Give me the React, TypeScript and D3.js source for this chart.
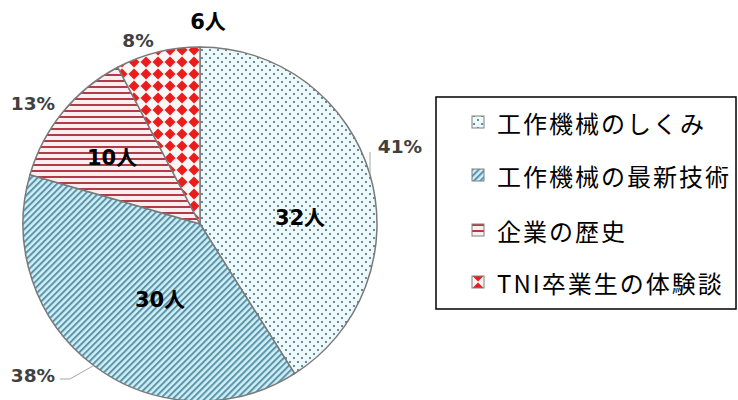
import React from 'react';
import * as d3 from 'd3';

const categories = ['工作機械のしくみ', '工作機械の最新技術', '企業の歴史', 'TNI卒業生の体験談'];
const counts = [32, 30, 10, 6];
const countUnit = '人';

const W = 738;
const H = 400;
const FONT = '"Noto Sans CJK JP", "Noto Sans", sans-serif';
const NUMFONT = '"DejaVu Sans", "Noto Sans CJK JP", sans-serif';

export default function App() {
  const cx = 200, cy = 224, R = 177;
  const total = d3.sum(counts);
  const pie = d3.pie<number>().sort(null).value((d) => d);
  const arcs = pie(counts);
  const arc = d3.arc<d3.PieArcDatum<number>>().innerRadius(0).outerRadius(R);
  const polar = (a: number, r: number): [number, number] => [Math.sin(a) * r, -Math.cos(a) * r];
  const mid = (d: d3.PieArcDatum<number>) => (d.startAngle + d.endAngle) / 2;

  const patterns = ['pDots', 'pDiag', 'pHoriz', 'pDiamond'];
  const countPos: [number, number][] = [[100, -6], [-40, 76], [-88, -66], [8, -202]];
  const pctPos: [number, number][] = [[200, -78], [-167, 151], [-167, -121], [-62, -184]];

  const legendX = 436, legendY = 97, legendW = 300, legendH = 212;
  const rowY = [122, 175, 230, 282];

  return (
    <svg width={W} height={H} style={{ position: 'absolute', left: 0, top: 0, background: '#fff' }} fontFamily={FONT}>
      <defs>
        <pattern id="pDots" width="8" height="8" patternUnits="userSpaceOnUse">
          <rect width="8" height="8" fill="#eef9fc" />
          <rect x="1" y="1" width="2" height="2" fill="#668c99" />
          <rect x="5" y="5" width="2" height="2" fill="#668c99" />
        </pattern>
        <pattern id="pDiag" width="4.5" height="4.5" patternUnits="userSpaceOnUse" patternTransform="rotate(45)">
          <rect width="4.5" height="4.5" fill="#cdf0f9" />
          <rect width="2" height="4.5" fill="#5f93a8" />
        </pattern>
        <pattern id="pHoriz" width="6" height="6" patternUnits="userSpaceOnUse">
          <rect width="6" height="6" fill="#fdeef0" />
          <rect y="0" width="6" height="2" fill="#b33a48" />
        </pattern>
        <pattern id="pDiamond" width="12" height="12" patternUnits="userSpaceOnUse">
          <rect width="12" height="12" fill="#f6f7f7" />
          <path d="M6,0.5 L11.5,6 L6,11.5 L0.5,6 Z" fill="#ec1c1c" />
        </pattern>
      </defs>

      <g transform={`translate(${cx},${cy})`}>
        {arcs.map((d, i) => (
          <path key={i} d={arc(d) || ''} fill={`url(#${patterns[i]})`} stroke="#7a7a7a" strokeWidth={1.5} />
        ))}
        {(() => {
          const a0 = polar(mid(arcs[0]), R);
          const a1 = polar(mid(arcs[1]), R);
          return (
            <g fill="none" stroke="#a6a6a6" strokeWidth={1}>
              <path d={`M${a0[0]},${a0[1]} L${a0[0]},${pctPos[0][1] + 6}`} />
              <path d={`M${a1[0]},${a1[1]} L${pctPos[1][0] + 37},${pctPos[1][1] + 4} L${pctPos[1][0] + 27},${pctPos[1][1] + 4}`} />
            </g>
          );
        })()}
        {arcs.map((d, i) => (
          <text key={'c' + i} x={countPos[i][0]} y={countPos[i][1]} textAnchor="middle" dominantBaseline="central"
            fontFamily={NUMFONT} fontSize={21} fontWeight="bold" fill="#000">{`${d.data}${countUnit}`}</text>
        ))}
        {arcs.map((d, i) => (
          <text key={'p' + i} x={pctPos[i][0]} y={pctPos[i][1]} textAnchor="middle" dominantBaseline="central"
            fontFamily={NUMFONT} fontSize={18.5} fontWeight="bold" fill="#404040">{`${Math.round((d.data / total) * 100)}%`}</text>
        ))}
      </g>

      <rect x={legendX} y={legendY} width={legendW} height={legendH} fill="#fff" stroke="#000" strokeWidth={1.5} />
      {categories.map((c, i) => (
        <g key={c} transform={`translate(472,${rowY[i]})`}>
          <rect x={0} y={-6} width={12} height={12} fill={`url(#${patterns[i]})`} stroke="#808080" strokeWidth={1} />
          <text x={25} y={0} dominantBaseline="central" fontSize={24} letterSpacing={2} fill="#000">{c}</text>
        </g>
      ))}
    </svg>
  );
}
